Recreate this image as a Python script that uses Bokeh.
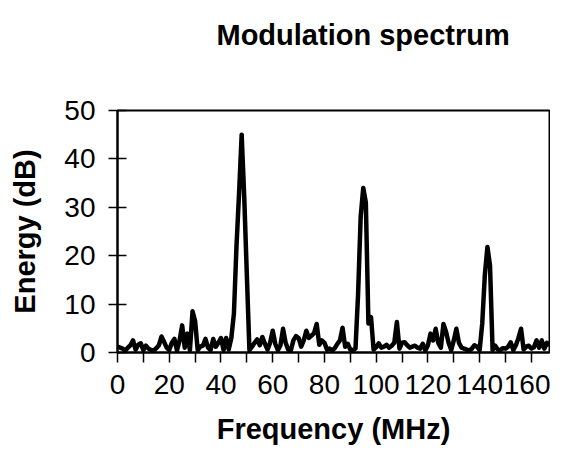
from bokeh.plotting import figure
from bokeh.models import FixedTicker, Title
from bokeh.embed import file_html
from bokeh.resources import INLINE

freq_mhz = list(range(0, 168))
energy_db = [
    1.2, 1.0, 0.8, 0.4, 1.0, 1.5, 2.5, 0.6, 1.6, 1.9,
    0.5, 1.4, 0.8, 0.5, 0.4, 0.9, 1.5, 3.3, 2.2, 1.0,
    0.5, 2.0, 2.8, 0.4, 2.5, 5.6, 1.0, 3.9, 0.5, 8.5,
    6.5, 0.5, 1.2, 1.4, 2.8, 1.0, 0.5, 2.8, 1.2, 2.0,
    3.0, 0.5, 3.0, 0.6, 3.0, 8.0, 22.0, 33.0, 45.0, 32.0,
    16.0, 0.5, 1.2, 2.0, 2.7, 1.5, 3.2, 1.8, 0.6, 2.0,
    4.5, 1.8, 0.5, 1.5, 4.9, 2.0, 0.6, 0.4, 2.5, 3.4,
    3.0, 1.2, 2.5, 4.5, 3.0, 3.5, 4.0, 5.9, 1.6, 2.5,
    2.0, 0.6, 0.8, 0.4, 0.9, 1.8, 2.5, 5.1, 1.2, 1.8,
    0.6, 0.5, 0.8, 12.0, 28.0, 34.0, 31.0, 6.0, 7.3, 0.6,
    1.1, 1.9, 1.0, 1.2, 1.6, 1.0, 1.4, 2.0, 6.3, 0.8,
    2.0, 2.1, 1.5, 1.0, 1.2, 1.4, 1.0, 0.8, 1.8, 0.4,
    1.5, 3.9, 2.5, 4.9, 2.0, 1.0, 5.9, 4.3, 2.0, 0.5,
    2.5, 4.9, 2.0, 1.0, 0.8, 0.6, 0.4, 0.8, 1.5, 1.2,
    0.5, 6.0, 16.0, 21.8, 18.0, 0.5, 1.4, 0.6, 0.5, 0.9,
    0.8, 1.2, 2.1, 0.5, 1.5, 3.0, 4.9, 0.6, 1.2, 1.4,
    0.8, 1.1, 2.5, 1.0, 2.5, 0.8, 2.0, 1.5,
]
x_ticks = list(range(0, 170, 10))
x_tick_labels = {t: (str(t) if t % 20 == 0 else "") for t in x_ticks}
y_ticks = [0, 10, 20, 30, 40, 50]
title_text = "Modulation spectrum"

FONT = "Liberation Sans"

p = figure(width=550, height=447, output_backend="svg", toolbar_location=None,
           title=None,
           x_range=(0, 167), y_range=(0, 50),
           min_border_left=117, min_border_top=110, min_border_bottom=95,
           min_border_right=1)

p.line(freq_mhz, energy_db, line_color="black", line_width=4.5, line_join="round")

# spacer between the plot frame and the title (closest to frame)
spacer = Title(text=" ", standoff=37, text_font=FONT, text_font_size="1px")
p.add_layout(spacer, "above")

t = Title(text=title_text, align="left", offset=99, standoff=36,
          vertical_align="top",
          text_font=FONT, text_font_size="29px", text_font_style="bold",
          text_color="black")
p.add_layout(t, "above")

p.grid.visible = False
p.outline_line_color = "black"
p.outline_line_width = 2
p.background_fill_color = "white"
p.border_fill_color = "white"

xa = p.xaxis[0]
xa.ticker = FixedTicker(ticks=x_ticks)
xa.major_label_overrides = x_tick_labels
xa.axis_label = "Frequency (MHz)"
xa.axis_label_text_font = FONT
xa.axis_label_text_font_size = "29px"
xa.axis_label_text_font_style = "bold"
xa.axis_label_text_color = "black"
xa.axis_label_standoff = 16
xa.major_label_text_font = FONT
xa.major_label_text_font_size = "28px"
xa.major_label_text_color = "black"
xa.major_label_standoff = 12
xa.major_tick_in = 0
xa.major_tick_out = 10
xa.minor_tick_out = 0
xa.minor_tick_in = 0
xa.axis_line_width = 2
xa.axis_line_color = "black"
xa.major_tick_line_color = "black"
xa.major_tick_line_width = 1.5

ya = p.yaxis[0]
ya.ticker = FixedTicker(ticks=y_ticks)
ya.axis_label = "Energy (dB)"
ya.axis_label_text_font = FONT
ya.axis_label_text_font_size = "29px"
ya.axis_label_text_font_style = "bold"
ya.axis_label_text_color = "black"
ya.axis_label_standoff = 20
ya.major_label_text_font = FONT
ya.major_label_text_font_size = "28px"
ya.major_label_text_color = "black"
ya.major_label_standoff = 13
ya.major_tick_in = 9
ya.major_tick_out = 9
ya.minor_tick_out = 0
ya.minor_tick_in = 0
ya.axis_line_width = 2
ya.axis_line_color = "black"
ya.major_tick_line_color = "black"
ya.major_tick_line_width = 1.5

open("out.html", "w").write(file_html(p, INLINE))
